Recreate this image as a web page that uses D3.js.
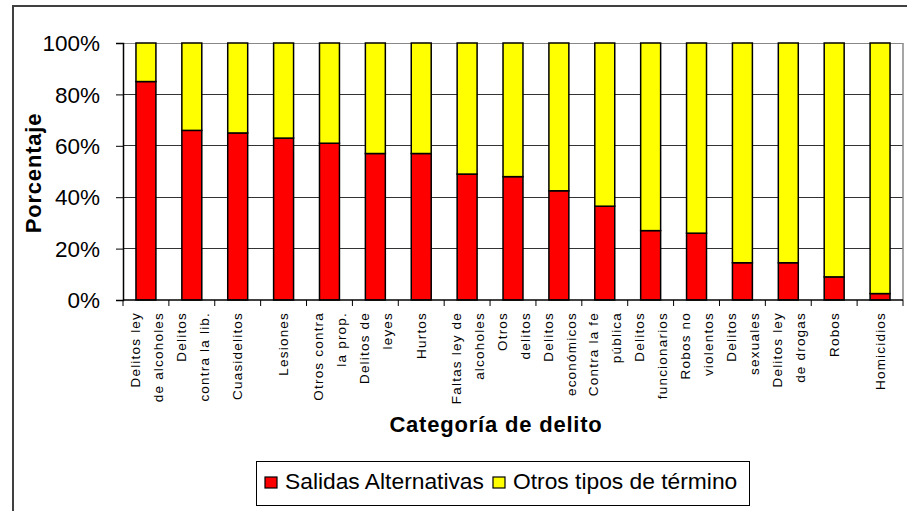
<!DOCTYPE html>
<html><head><meta charset="utf-8">
<script src="https://cdn.jsdelivr.net/npm/d3@7"></script>
<style>html,body{margin:0;padding:0;background:#fff;}svg{display:block;font-family:"Liberation Sans",Arial,sans-serif;}</style>
</head><body>
<svg id="c" width="907" height="511"></svg>
<script>
const categories = [
  "Delitos ley\nde alcoholes", "Delitos\ncontra la lib.", "Cuasidelitos", "Lesiones",
  "Otros contra\nla prop.", "Delitos de\nleyes", "Hurtos", "Faltas ley de\nalcoholes",
  "Otros\ndelitos", "Delitos\neconómicos", "Contra la fe\npública", "Delitos\nfuncionarios",
  "Robos no\nviolentos", "Delitos\nsexuales", "Delitos ley\nde drogas", "Robos", "Homicidios"
];
const salidas = [85, 66, 65, 63, 61, 57, 57, 49, 48, 42.5, 36.5, 27, 26, 14.5, 14.5, 9, 2.5];
const otros   = [15, 34, 35, 37, 39, 43, 43, 51, 52, 57.5, 63.5, 73, 74, 85.5, 85.5, 91, 97.5];
const seriesNames = ["Salidas Alternativas", "Otros tipos de término"];
const seriesColors = ["#FF0000", "#FFFF00"];
const yTicks = [0, 20, 40, 60, 80, 100];

const svg = d3.select("#c");
const L = 123, R = 903, T = 43, B = 300;

const rows = categories.map((c, i) => ({cat: c, s: salidas[i], o: otros[i]}));
const stack = d3.stack().keys(["s", "o"])(rows);

const x = d3.scaleBand().domain(categories).range([L, R]).paddingInner(0.565).paddingOuter(0.2825);
const y = d3.scaleLinear().domain([0, 100]).range([B, T]);

// outer frame
svg.append("path").attr("d", `M13,511V6H907`).attr("fill", "none").attr("stroke", "#404040").attr("stroke-width", 2);

// gridlines
svg.append("g").selectAll("line").data(yTicks.filter(d => d > 0)).join("line")
  .attr("x1", L).attr("x2", R).attr("y1", d => y(d)).attr("y2", d => y(d))
  .attr("stroke", d => d === 100 ? "#888" : "#333").attr("stroke-width", 1).attr("shape-rendering", "crispEdges");
svg.append("line").attr("x1", R).attr("x2", R).attr("y1", T).attr("y2", B)
  .attr("stroke", "#888").attr("stroke-width", 1.5);

// bars
svg.append("g").selectAll("g").data(stack).join("g")
  .attr("fill", (d, i) => seriesColors[i])
  .selectAll("rect").data(d => d).join("rect")
  .attr("x", d => x(d.data.cat)).attr("width", x.bandwidth())
  .attr("y", d => y(d[1])).attr("height", d => y(d[0]) - y(d[1]))
  .attr("stroke", "#000").attr("stroke-width", 1.5);

// y axis
const yAxis = svg.append("g").attr("transform", `translate(${L},0)`)
  .call(d3.axisLeft(y).tickValues(yTicks).tickFormat(d => d + "%").tickSize(7).tickPadding(16));
yAxis.select(".domain").attr("stroke", "#000").attr("stroke-width", 1.5);
yAxis.selectAll(".tick line").attr("stroke", "#000");
yAxis.selectAll(".tick text").attr("font-size", 22.5).attr("fill", "#000")
  .attr("font-family", "\"Liberation Sans\",Arial,sans-serif").attr("dy", "0.34em");

// x axis
svg.append("line").attr("x1", L).attr("x2", R).attr("y1", B).attr("y2", B).attr("stroke", "#000").attr("stroke-width", 1.5);
svg.append("g").selectAll("line").data(d3.range(categories.length + 1)).join("line")
  .attr("x1", i => L + i * x.step()).attr("x2", i => L + i * x.step())
  .attr("y1", B).attr("y2", B + 6).attr("stroke", "#000").attr("stroke-width", 1);

// category labels
const labG = svg.append("g");
categories.forEach(c => {
  const lines = c.split("\n");
  const xc = x(c) + x.bandwidth() / 2;
  const offs = lines.length === 1 ? [0] : [-11, 12];
  lines.forEach((ln, j) => {
    labG.append("text").text(ln)
      .attr("font-size", 13.5).style("letter-spacing", "1.2px").attr("fill", "#000").attr("text-anchor", "end")
      .attr("dy", "0.35em")
      .attr("transform", `translate(${xc + offs[j]},312) rotate(-90)`);
  });
});

// axis titles
svg.append("text").text("Porcentaje").attr("font-size", 22).attr("font-weight", "bold").style("letter-spacing", "0.8px")
  .attr("text-anchor", "middle").attr("dy", "0.35em").attr("transform", "translate(33,173) rotate(-90)");
svg.append("text").text("Categoría de delito").attr("font-size", 22).attr("font-weight", "bold").style("letter-spacing", "0.8px")
  .attr("text-anchor", "middle").attr("x", 496).attr("y", 432);

// legend
svg.append("rect").attr("x", 256.5).attr("y", 461.5).attr("width", 493).attr("height", 44)
  .attr("fill", "#fff").attr("stroke", "#000").attr("stroke-width", 1);
const legX = [265, 493], legTX = [285, 513];
seriesNames.forEach((n, i) => {
  svg.append("rect").attr("x", legX[i]).attr("y", 477).attr("width", 12).attr("height", 11)
    .attr("fill", seriesColors[i]).attr("stroke", "#000").attr("stroke-width", 1.2);
  svg.append("text").text(n).attr("x", legTX[i]).attr("y", 489).attr("font-size", 22.8).attr("fill", "#000");
});
</script>
</body></html>
